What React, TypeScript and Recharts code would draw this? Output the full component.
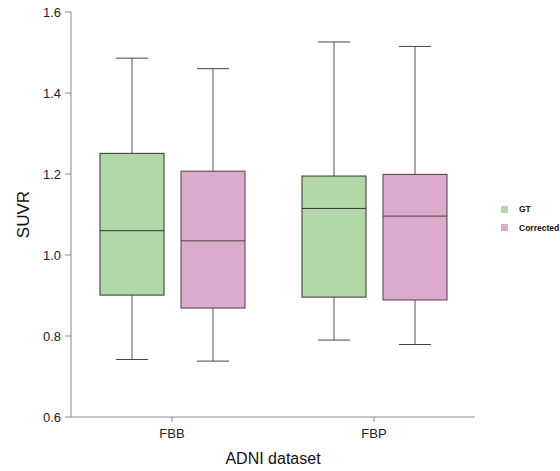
import React from 'react';
import { ComposedChart, Bar, XAxis, YAxis } from 'recharts';

const categories = ['FBB', 'FBP'];
const yTicks = [0.6, 0.8, 1.0, 1.2, 1.4, 1.6];

const gtMin = [0.742, 0.790];
const gtQ1 = [0.901, 0.896];
const gtMedian = [1.060, 1.115];
const gtQ3 = [1.251, 1.195];
const gtMax = [1.486, 1.526];

const corrMin = [0.738, 0.779];
const corrQ1 = [0.869, 0.889];
const corrMedian = [1.035, 1.096];
const corrQ3 = [1.207, 1.199];
const corrMax = [1.460, 1.515];

const seriesNames = ['GT', 'Corrected'];
const seriesColors = ['#b3d8a8', '#dcaacb'];

const data = categories.map((c, i) => ({
  name: c,
  gt: [gtMin[i], gtMax[i]],
  gtStats: { min: gtMin[i], q1: gtQ1[i], med: gtMedian[i], q3: gtQ3[i], max: gtMax[i] },
  corr: [corrMin[i], corrMax[i]],
  corrStats: { min: corrMin[i], q1: corrQ1[i], med: corrMedian[i], q3: corrQ3[i], max: corrMax[i] },
}));

const FONT = "'Liberation Sans', Arial, sans-serif";

function makeBoxShape(statsKey: string, fill: string, stroke: string) {
  return (props: any) => {
    const { x, y, width, height, payload } = props;
    const s = payload[statsKey];
    const top = Math.min(y, y + height);
    const bottom = Math.max(y, y + height);
    const pix = (v: number) => bottom - ((v - s.min) / (s.max - s.min)) * (bottom - top);
    const cx = x + width / 2;
    const capHalf = width / 4;
    const yq1 = pix(s.q1);
    const yq3 = pix(s.q3);
    const ymed = pix(s.med);
    return (
      <g>
        <line x1={cx} x2={cx} y1={top} y2={yq3} stroke="#555" strokeWidth={1} />
        <line x1={cx} x2={cx} y1={yq1} y2={bottom} stroke="#555" strokeWidth={1} />
        <line x1={cx - capHalf} x2={cx + capHalf} y1={top} y2={top} stroke="#444" strokeWidth={1} />
        <line x1={cx - capHalf} x2={cx + capHalf} y1={bottom} y2={bottom} stroke="#444" strokeWidth={1} />
        <rect x={x} y={yq3} width={width} height={yq1 - yq3} fill={fill} stroke={stroke} strokeWidth={1} />
        <line x1={x} x2={x + width} y1={ymed} y2={ymed} stroke={stroke} strokeWidth={1} />
      </g>
    );
  };
}

const YLabel = (props: any) => {
  const vb = props.viewBox;
  const cy = vb.y + vb.height / 2;
  const bx = 29;
  return (
    <text x={bx} y={cy} transform={`rotate(-90, ${bx}, ${cy})`} textAnchor="middle"
      fontFamily={FONT} fontSize={17} fill="#111">SUVR</text>
  );
};

const XLabel = (props: any) => {
  const vb = props.viewBox;
  return (
    <text x={vb.x + vb.width / 2} y={464} textAnchor="middle"
      fontFamily={FONT} fontSize={16} fill="#111">ADNI dataset</text>
  );
};

export default function App() {
  return (
    <div style={{ position: 'absolute', left: 0, top: 0, width: 560, height: 471, background: '#fff' }}>
      <ComposedChart
        width={560}
        height={471}
        data={data}
        margin={{ top: 12, right: 85, bottom: 4, left: 0 }}
        barSize={64}
        barGap={17}
      >
        <XAxis
          dataKey="name"
          height={50}
          tickSize={5}
          tickMargin={7}
          axisLine={{ stroke: '#888' }}
          tickLine={{ stroke: '#888' }}
          tick={{ fill: '#222', fontSize: 13, fontFamily: FONT }}
          label={<XLabel />}
        />
        <YAxis
          width={71}
          domain={[0.6, 1.6]}
          ticks={yTicks}
          type="number"
          allowDataOverflow
          tickSize={6}
          tickMargin={4}
          tickFormatter={(v: number) => v.toFixed(1)}
          axisLine={{ stroke: '#888' }}
          tickLine={{ stroke: '#888' }}
          tick={{ fill: '#222', fontSize: 13, fontFamily: FONT }}
          label={<YLabel />}
        />
        <Bar dataKey="gt" isAnimationActive={false} shape={makeBoxShape('gtStats', seriesColors[0], '#333')} />
        <Bar dataKey="corr" isAnimationActive={false} shape={makeBoxShape('corrStats', seriesColors[1], '#4a4048')} />
      </ComposedChart>
      <div style={{ position: 'absolute', left: 501, top: 200, fontFamily: FONT, fontSize: 8.5, fontWeight: 'bold', color: '#111' }}>
        {seriesNames.map((n, i) => (
          <div key={n} style={{ display: 'flex', alignItems: 'center', height: 18.5, whiteSpace: 'nowrap' }}>
            <span style={{ display: 'inline-block', width: 7, height: 7, background: seriesColors[i], marginRight: 11 }} />
            <span>{n}</span>
          </div>
        ))}
      </div>
    </div>
  );
}
